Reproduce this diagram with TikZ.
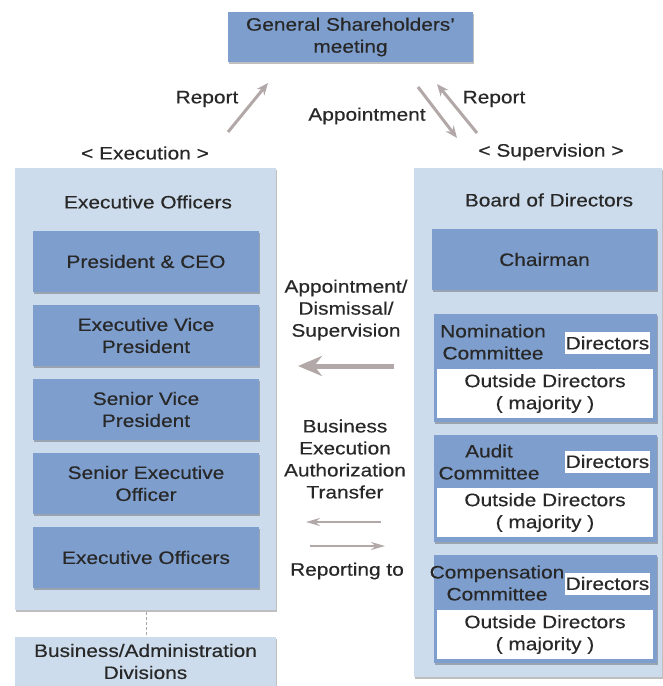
\documentclass[tikz,border=0pt]{standalone}
\usepackage{fontspec}
\setmainfont{Liberation Sans}[FakeStretch=1.16,FakeBold=0.4]
\usetikzlibrary{shadows,arrows.meta}
\definecolor{midblue}{RGB}{126,158,206}
\definecolor{lightblue}{RGB}{205,220,236}
\definecolor{txt}{RGB}{40,40,40}
\definecolor{arr}{RGB}{178,168,168}
\begin{document}
\begin{tikzpicture}[x=1pt,y=-1pt,
  font=\fontsize{18}{22}\selectfont, text=txt,
  shad/.style={drop shadow={shadow xshift=1pt,shadow yshift=-2pt,fill=black,opacity=0.25}},
  outerbox/.style={fill=lightblue,draw=none,inner sep=0pt,shad},
  midbox/.style={fill=midblue,draw=none,inner sep=0pt,align=center,shad},
  whitebox/.style={fill=white,draw=none,inner sep=0pt,align=center},
  lbl/.style={align=center,inner sep=0pt},
  arrline/.style={draw=arr,line width=3pt,-{Stealth[length=12pt,width=10pt]}},
  bigarr/.style={draw=arr,line width=5pt,-{Stealth[length=24pt,width=20pt]}},
  thinarr/.style={draw=arr,line width=2pt,-{Stealth[length=14pt,width=8pt]}}]
\useasboundingbox (0,0) rectangle (663,686);

% top
\node[midbox,minimum width=245,minimum height=50] (gsm) at (350.5,37) {General Shareholders'\\meeting};

% left column
\node[outerbox,minimum width=261,minimum height=442] (lo) at (145.5,389) {};
\node[lbl] (lotitle) at (148,202) {Executive Officers};
\node[midbox,minimum width=226,minimum height=61] (pres) at (146,261.5) {President \& CEO};
\node[midbox,minimum width=226,minimum height=61] (evp) at (146,335.5) {Executive Vice\\President};
\node[midbox,minimum width=226,minimum height=61] (svp) at (146,409.5) {Senior Vice\\President};
\node[midbox,minimum width=226,minimum height=61] (seo) at (146,483.5) {Senior Executive\\Officer};
\node[midbox,minimum width=226,minimum height=61] (eo) at (146,557.5) {Executive Officers};
\node[outerbox,minimum width=261,minimum height=49,align=center] (biz) at (145.5,661.5) {Business/Administration\\Divisions};
\draw[draw=gray!70,densely dashed,line width=0.8pt] (biz.north -| lo.south) ++(0.5,0) coordinate (bt) (lo.south) ++(0.5,2) coordinate (lb) (lb) -- (bt);

% right column
\node[outerbox,minimum width=248,minimum height=509] (ro) at (538,422.5) {};
\node[lbl] (rotitle) at (549,200) {Board of Directors};
\node[midbox,minimum width=225,minimum height=61] (chair) at (544.5,259.5) {Chairman};

\node[midbox,minimum width=223,minimum height=108] (nom) at (545.5,368) {};
\node[whitebox,minimum width=85,minimum height=22] (nomd) at (607.5,343) {Directors};
\node[whitebox,minimum width=216,minimum height=49] (nomo) at (545,393.5) {Outside Directors\\( majority )};
\node[lbl] (nomt) at (493,342) {Nomination\\Committee};

\node[midbox,minimum width=223,minimum height=107] (aud) at (545.5,488.5) {};
\node[whitebox,minimum width=85,minimum height=22] (audd) at (607.5,461.5) {Directors};
\node[whitebox,minimum width=216,minimum height=49] (audo) at (545,512.5) {Outside Directors\\( majority )};
\node[lbl] (audt) at (489,462) {Audit\\Committee};

\node[midbox,minimum width=223,minimum height=108] (comp) at (545.5,609) {};
\node[whitebox,minimum width=85,minimum height=22] (compd) at (607.5,583.5) {Directors};
\node[whitebox,minimum width=216,minimum height=49] (compo) at (545,634.5) {Outside Directors\\( majority )};
\node[lbl] (compt) at (497,583) {Compensation\\Committee};

% labels
\node[lbl] (exec) at (145,153) {< Execution >};
\node[lbl] (sup) at (551,152) {< Supervision >};
\node[lbl] (rep1) at (207,99) {Report};
\node[lbl] (rep2) at (494,99) {Report};
\node[lbl] (appt) at (367,116) {Appointment};
\node[lbl] (ads) at (346,310) {Appointment/\\Dismissal/\\Supervision};
\node[lbl] (beat) at (345,459) {Business\\Execution\\Authorization\\Transfer};
\node[lbl] (repto) at (347,571) {Reporting to};

% arrows
\coordinate (a1s) at (228,132); \coordinate (a1e) at (268,83);
\coordinate (a2s) at (418,87);  \coordinate (a2e) at (457,138);
\coordinate (a3s) at (477,133); \coordinate (a3e) at (437,84);
\coordinate (b1s) at (394,366); \coordinate (b1e) at (298,366);
\coordinate (c1s) at (381,522); \coordinate (c1e) at (306,522);
\coordinate (c2s) at (310,546); \coordinate (c2e) at (385,546);
\draw[arrline] (a1s) -- (a1e);
\draw[arrline] (a2s) -- (a2e);
\draw[arrline] (a3s) -- (a3e);
\draw[bigarr] (b1s) -- (b1e);
\draw[thinarr] (c1s) -- (c1e);
\draw[thinarr] (c2s) -- (c2e);
\end{tikzpicture}
\end{document}
